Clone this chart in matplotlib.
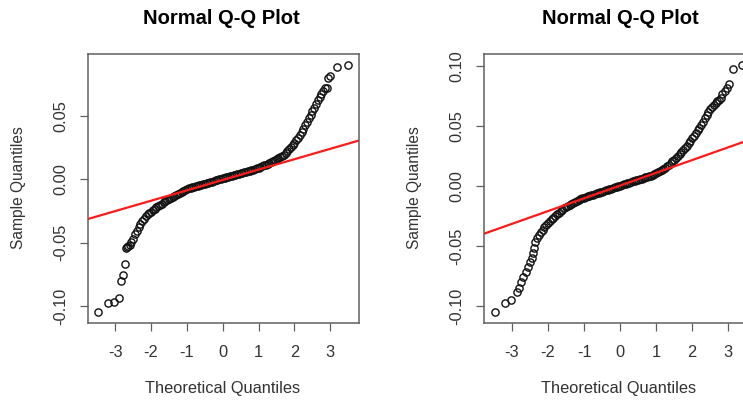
# Two normal Q-Q plots side by side (R qqnorm / qqline style)
import matplotlib
matplotlib.use("Agg")
import matplotlib.pyplot as plt

# Left panel: theoretical quantiles and sample quantiles
left_theo = [-3.47, -3.20, -3.04, -2.90, -2.85, -2.79, -2.74, -2.70, -2.66, -2.64,
             -2.60, -2.55, -2.50, -2.45, -2.40, -2.35, -2.30, -2.25, -2.20, -2.15,
             -2.10, -2.05, -2.00, -1.95, -1.90, -1.85, -1.80, -1.75, -1.70, -1.65,
             -1.60, -1.55, -1.50, -1.45, -1.40, -1.35, -1.30, -1.25, -1.20, -1.15,
             -1.10, -1.05, -1.00, -0.95, -0.90, -0.85, -0.80, -0.75, -0.70, -0.65,
             -0.60, -0.55, -0.50, -0.45, -0.40, -0.35, -0.30, -0.25, -0.20, -0.15,
             -0.10, -0.05, 0.00, 0.05, 0.10, 0.15, 0.20, 0.25, 0.30, 0.35,
             0.40, 0.45, 0.50, 0.55, 0.60, 0.65, 0.70, 0.75, 0.80, 0.85,
             0.90, 0.95, 1.00, 1.05, 1.10, 1.15, 1.20, 1.25, 1.30, 1.35,
             1.40, 1.45, 1.50, 1.55, 1.60, 1.65, 1.70, 1.75, 1.80, 1.85,
             1.90, 1.95, 2.00, 2.05, 2.10, 2.15, 2.20, 2.25, 2.30, 2.35,
             2.40, 2.45, 2.50, 2.55, 2.60, 2.65, 2.70, 2.75, 2.80, 2.86,
             2.90, 2.93, 3.00, 3.18, 3.48]
left_sample = [-0.1050, -0.0976, -0.0972, -0.0935, -0.0803, -0.0756, -0.0669, -0.0545, -0.0535, -0.0527,
               -0.0515, -0.0495, -0.0468, -0.0435, -0.0405, -0.0378, -0.0352, -0.0330, -0.0310, -0.0292,
               -0.0276, -0.0265, -0.0255, -0.0243, -0.0231, -0.0221, -0.0211, -0.0202, -0.0192, -0.0183,
               -0.0174, -0.0165, -0.0156, -0.0147, -0.0139, -0.0131, -0.0123, -0.0115, -0.0107, -0.0099,
               -0.0090, -0.0082, -0.0075, -0.0071, -0.0067, -0.0063, -0.0059, -0.0055, -0.0050, -0.0046,
               -0.0042, -0.0038, -0.0034, -0.0030, -0.0026, -0.0022, -0.0018, -0.0014, -0.0009, -0.0005,
               -0.0001, 0.0003, 0.0007, 0.0011, 0.0015, 0.0019, 0.0023, 0.0028, 0.0032, 0.0036,
               0.0040, 0.0044, 0.0048, 0.0052, 0.0056, 0.0060, 0.0064, 0.0068, 0.0073, 0.0077,
               0.0081, 0.0086, 0.0091, 0.0097, 0.0103, 0.0110, 0.0117, 0.0124, 0.0131, 0.0138,
               0.0145, 0.0151, 0.0158, 0.0166, 0.0175, 0.0185, 0.0196, 0.0208, 0.0221, 0.0237,
               0.0253, 0.0270, 0.0290, 0.0310, 0.0330, 0.0352, 0.0375, 0.0400, 0.0427, 0.0455,
               0.0482, 0.0510, 0.0538, 0.0567, 0.0596, 0.0625, 0.0652, 0.0676, 0.0700, 0.0719,
               0.0725, 0.0798, 0.0816, 0.0889, 0.0903]
left_line = (-0.0005, 0.0082)      # qqline intercept, slope
left_yticks = [-0.10, -0.05, 0.00, 0.05]

# Right panel
right_theo = [-3.47, -3.19, -3.03, -2.87, -2.82, -2.75, -2.69, -2.62, -2.56, -2.50,
              -2.45, -2.42, -2.40, -2.35, -2.30, -2.25, -2.20, -2.15, -2.10, -2.05,
              -2.00, -1.95, -1.90, -1.85, -1.80, -1.75, -1.70, -1.65, -1.60, -1.55,
              -1.50, -1.45, -1.40, -1.35, -1.30, -1.25, -1.20, -1.15, -1.10, -1.05,
              -1.00, -0.95, -0.90, -0.85, -0.80, -0.75, -0.70, -0.65, -0.60, -0.55,
              -0.50, -0.45, -0.40, -0.35, -0.30, -0.25, -0.20, -0.15, -0.10, -0.05,
              0.00, 0.05, 0.10, 0.15, 0.20, 0.25, 0.30, 0.35, 0.40, 0.45,
              0.50, 0.55, 0.60, 0.65, 0.70, 0.75, 0.80, 0.85, 0.90, 0.95,
              1.00, 1.05, 1.10, 1.15, 1.20, 1.25, 1.30, 1.35, 1.40, 1.45,
              1.50, 1.55, 1.60, 1.65, 1.70, 1.75, 1.80, 1.85, 1.90, 1.95,
              2.00, 2.05, 2.10, 2.15, 2.20, 2.25, 2.30, 2.35, 2.40, 2.45,
              2.50, 2.55, 2.60, 2.65, 2.70, 2.75, 2.80, 2.84, 2.91, 2.97,
              3.03, 3.12, 3.37]
right_sample = [-0.1051, -0.0975, -0.0948, -0.0884, -0.0847, -0.0800, -0.0758, -0.0716, -0.0674, -0.0633,
                -0.0596, -0.0560, -0.0520, -0.0470, -0.0435, -0.0408, -0.0385, -0.0364, -0.0345, -0.0327,
                -0.0310, -0.0293, -0.0277, -0.0262, -0.0248, -0.0234, -0.0221, -0.0208, -0.0196, -0.0185,
                -0.0175, -0.0165, -0.0156, -0.0147, -0.0139, -0.0131, -0.0123, -0.0116, -0.0109, -0.0102,
                -0.0096, -0.0091, -0.0086, -0.0081, -0.0076, -0.0071, -0.0066, -0.0061, -0.0056, -0.0051,
                -0.0046, -0.0041, -0.0036, -0.0031, -0.0026, -0.0021, -0.0016, -0.0011, -0.0006, -0.0001,
                0.0004, 0.0009, 0.0014, 0.0019, 0.0024, 0.0029, 0.0034, 0.0039, 0.0044, 0.0049,
                0.0054, 0.0059, 0.0064, 0.0069, 0.0074, 0.0079, 0.0084, 0.0089, 0.0094, 0.0100,
                0.0108, 0.0115, 0.0123, 0.0132, 0.0142, 0.0153, 0.0165, 0.0178, 0.0192, 0.0207,
                0.0222, 0.0238, 0.0254, 0.0270, 0.0287, 0.0302, 0.0318, 0.0338, 0.0360, 0.0380,
                0.0400, 0.0422, 0.0445, 0.0468, 0.0490, 0.0515, 0.0540, 0.0566, 0.0595, 0.0622,
                0.0645, 0.0665, 0.0680, 0.0695, 0.0708, 0.0722, 0.0738, 0.0767, 0.0794, 0.0817,
                0.0850, 0.0978, 0.1012]
right_line = (0.0005, 0.01065)
right_yticks = [-0.10, -0.05, 0.00, 0.05, 0.10]

xticks = [-3, -2, -1, 0, 1, 2, 3]
title = "Normal Q-Q Plot"
xlabel = "Theoretical Quantiles"
ylabel = "Sample Quantiles"

plt.rcParams['font.family'] = ['Liberation Sans', 'DejaVu Sans']
plt.rcParams['axes.unicode_minus'] = False

W, H = 743, 401
fig = plt.figure(figsize=(W / 100, H / 100), dpi=100)


def qq_panel(left_px, width_px, theo, sample, line, xlim, ylim, yticks, ypad):
    ax = fig.add_axes([left_px / W, (H - 323) / H, width_px / W, 269 / H])
    ax.plot(theo, sample, 'o', mfc='none', mec='#111111', ms=5.2, mew=1.0)
    # reference line through the quartiles
    ax.axline((0, line[0]), slope=line[1], color='#ff1a1a', lw=1.6)
    ax.set_xlim(xlim)
    ax.set_ylim(ylim)
    ax.set_xticks(xticks)
    ax.set_yticks(yticks)
    ax.set_yticklabels(['%.2f' % v for v in yticks], rotation=90, va='center')
    for s in ax.spines.values():
        s.set_color('#606060')
        s.set_linewidth(1.1)
    ax.tick_params(direction='out', length=6, width=0.9, color='#606060',
                   labelcolor='#333333', labelsize=11.8)
    ax.tick_params(axis='x', pad=9.5)
    ax.tick_params(axis='y', pad=ypad)
    return ax


qq_panel(88, 271, left_theo, left_sample, left_line,
         (-3.76, 3.80), (-0.1135, 0.099), left_yticks, 8.0)
qq_panel(484.3, 272, right_theo, right_sample, right_line,
         (-3.77, 3.78), (-0.1143, 0.1104), right_yticks, 8.6)

# titles and axis labels
for lx, tx, yx in [(222.5, 221.5, 18.5), (619, 620, 415)]:
    fig.text(tx / W, 1 - 18.5 / H, title, ha='center', va='center',
             fontsize=14.5, fontweight='bold', color='black')
    fig.text(lx / W, 1 - 388 / H, xlabel, ha='center', va='center',
             fontsize=11.8, color='#333333')
    fig.text(yx / W, 1 - 188 / H, ylabel, ha='center', va='center',
             rotation=90, fontsize=11.2, color='#333333')

fig.savefig('out.png', dpi=100)
